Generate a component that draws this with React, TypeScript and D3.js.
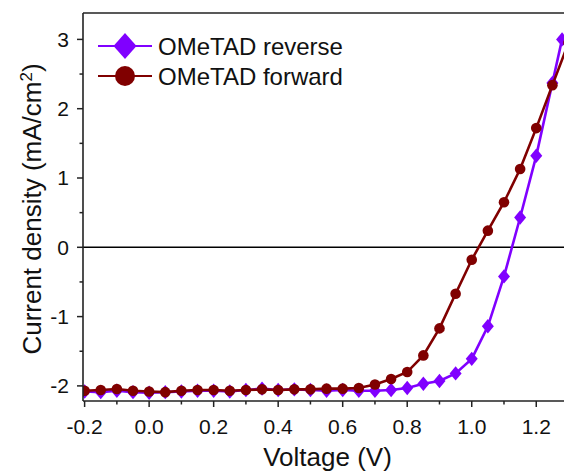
import React from "react";
import * as d3 from "d3";

const voltagesReverse = [-0.2, -0.15, -0.1, -0.05, 0, 0.05, 0.1, 0.15, 0.2, 0.25, 0.3, 0.35, 0.4, 0.45, 0.5, 0.55, 0.6, 0.65, 0.7, 0.75, 0.8, 0.85, 0.9, 0.95, 1.0, 1.05, 1.1, 1.15, 1.2, 1.25, 1.28];
const currentReverse = [-2.08, -2.09, -2.07, -2.09, -2.1, -2.09, -2.08, -2.07, -2.07, -2.08, -2.06, -2.04, -2.06, -2.05, -2.06, -2.07, -2.06, -2.07, -2.07, -2.06, -2.03, -1.97, -1.93, -1.82, -1.61, -1.14, -0.42, 0.43, 1.32, 2.37, 3.0];

const voltagesForward = [-0.2, -0.15, -0.1, -0.05, 0, 0.05, 0.1, 0.15, 0.2, 0.25, 0.3, 0.35, 0.4, 0.45, 0.5, 0.55, 0.6, 0.65, 0.7, 0.75, 0.8, 0.85, 0.9, 0.95, 1.0, 1.05, 1.1, 1.15, 1.2, 1.25, 1.3];
const currentForward = [-2.07, -2.06, -2.045, -2.07, -2.08, -2.09, -2.07, -2.06, -2.06, -2.07, -2.06, -2.05, -2.06, -2.05, -2.05, -2.04, -2.04, -2.03, -1.98, -1.9, -1.8, -1.56, -1.17, -0.67, -0.18, 0.24, 0.65, 1.13, 1.72, 2.34, 2.95];

const xTickValues = [-0.2, 0.0, 0.2, 0.4, 0.6, 0.8, 1.0, 1.2];
const xMinorTickValues = [-0.1, 0.1, 0.3, 0.5, 0.7, 0.9, 1.1];
const yTickValues = [-2, -1, 0, 1, 2, 3];
const yMinorTickValues = [-1.5, -0.5, 0.5, 1.5, 2.5];

const seriesNames = ["OMeTAD reverse", "OMeTAD forward"];
const seriesColors = ["#8000ff", "#800000"];

const W = 564;
const H = 473;
const L = 83;
const R = 564;
const T = 13;
const B = 401;

const FONT = "'Liberation Sans', Arial, sans-serif";

function diamondPath(cx: number, cy: number, hw: number, hh: number) {
  return `M${cx},${cy - hh}L${cx + hw},${cy}L${cx},${cy + hh}L${cx - hw},${cy}Z`;
}

export default function App() {
  const x = d3.scaleLinear().domain([-0.205, 1.286]).range([L, R]);
  const y = d3.scaleLinear().domain([-2.218, 3.381]).range([B, T]);

  const revData = voltagesReverse.map((v, i) => [v, currentReverse[i]] as [number, number]);
  const fwdData = voltagesForward.map((v, i) => [v, currentForward[i]] as [number, number]);

  const line = d3
    .line<[number, number]>()
    .x((d) => x(d[0]))
    .y((d) => y(d[1]));

  const fmtX = (v: number) => v.toFixed(1);

  return (
    <svg
      width={W}
      height={H}
      style={{ position: "absolute", left: 0, top: 0, background: "#fff" }}
      fontFamily={FONT}
    >
      <defs>
        <clipPath id="plotClip">
          <rect x={L} y={T} width={R - L} height={B - T} />
        </clipPath>
      </defs>
      <rect x={0} y={0} width={W} height={H} fill="#fff" />

      {/* zero line */}
      <line x1={L} x2={R} y1={y(0)} y2={y(0)} stroke="#000" strokeWidth={1.5} />

      <g clipPath="url(#plotClip)">
        <path d={line(revData) || ""} fill="none" stroke={seriesColors[0]} strokeWidth={2.6} />
        {revData.map((d, i) => (
          <path key={"r" + i} d={diamondPath(x(d[0]), y(d[1]), 6, 7.2)} fill={seriesColors[0]} />
        ))}
        <path d={line(fwdData) || ""} fill="none" stroke={seriesColors[1]} strokeWidth={2.6} />
        {fwdData.map((d, i) => (
          <circle key={"f" + i} cx={x(d[0])} cy={y(d[1])} r={5.3} fill={seriesColors[1]} />
        ))}
      </g>

      {/* axes frame */}
      <line x1={L} x2={L} y1={T} y2={B} stroke="#222" strokeWidth={1.6} />
      <line x1={L} x2={R} y1={B} y2={B} stroke="#222" strokeWidth={1.6} />
      <line x1={L} x2={R} y1={T} y2={T} stroke="#222" strokeWidth={1.6} />

      {/* x ticks */}
      {xTickValues.map((v) => (
        <g key={"xt" + v}>
          <line x1={x(v)} x2={x(v)} y1={B} y2={B + 6} stroke="#222" strokeWidth={1.5} />
          <text x={x(v)} y={434} textAnchor="middle" fontSize={21} fill="#111">
            {fmtX(v)}
          </text>
        </g>
      ))}
      {xMinorTickValues.map((v) => (
        <line key={"xm" + v} x1={x(v)} x2={x(v)} y1={B} y2={B + 3.5} stroke="#222" strokeWidth={1.5} />
      ))}

      {/* y ticks */}
      {yTickValues.map((v) => (
        <g key={"yt" + v}>
          <line x1={L - 6} x2={L} y1={y(v)} y2={y(v)} stroke="#222" strokeWidth={1.5} />
          <text x={69} y={y(v) + 7.5} textAnchor="end" fontSize={21} fill="#111">
            {v}
          </text>
        </g>
      ))}
      {yMinorTickValues.map((v) => (
        <line key={"ym" + v} x1={L - 3.5} x2={L} y1={y(v)} y2={y(v)} stroke="#222" strokeWidth={1.5} />
      ))}

      {/* axis titles */}
      <text x={(L + R) / 2 + 4} y={466} textAnchor="middle" fontSize={26} fill="#111">
        Voltage (V)
      </text>
      <text
        transform={`translate(41, ${(T + B) / 2 + 2}) rotate(-90)`}
        textAnchor="middle"
        fontSize={26}
        fill="#111"
      >
        Current density (mA/cm<tspan dy={-9} fontSize={17}>2</tspan>
        <tspan dy={9}>)</tspan>
      </text>

      {/* legend */}
      <g>
        <line x1={98} x2={152} y1={46} y2={46} stroke={seriesColors[0]} strokeWidth={2.2} />
        <path d={diamondPath(125, 46, 11.5, 13)} fill={seriesColors[0]} />
        <text x={158} y={54.5} fontSize={24} fill="#111">
          {seriesNames[0]}
        </text>
        <line x1={98} x2={152} y1={76} y2={76} stroke={seriesColors[1]} strokeWidth={2.2} />
        <circle cx={125} cy={76} r={10} fill={seriesColors[1]} />
        <text x={158} y={84.5} fontSize={24} fill="#111">
          {seriesNames[1]}
        </text>
      </g>
    </svg>
  );
}
